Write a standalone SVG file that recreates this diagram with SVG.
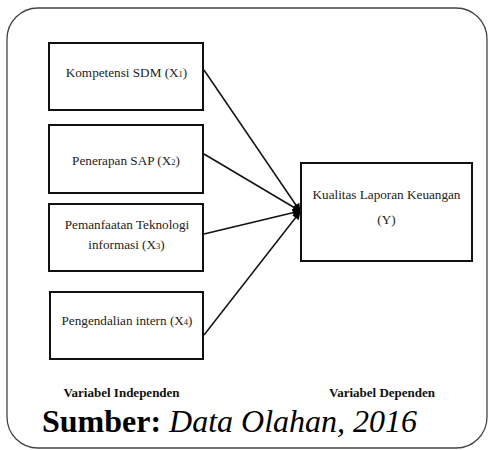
<svg xmlns="http://www.w3.org/2000/svg" width="488" height="450" viewBox="0 0 488 450">
<style>
.frame{fill:#fff;stroke:#444;stroke-width:1.3}
.box{fill:#fff;stroke:#111;stroke-width:2}
.t{font-family:'Liberation Serif','DejaVu Serif',serif;font-size:13.2px;fill:#222;text-anchor:middle}
.b{font-weight:bold;fill:#111;font-size:13px}
.sub{font-size:8.5px}
.conn{stroke:#111;stroke-width:1.5;fill:none;marker-end:url(#ah)}
.src{font-family:'Liberation Serif','DejaVu Serif',serif;font-size:32px;fill:#000}
</style>
<defs>
<marker id="ah" viewBox="0 0 10 10" refX="9" refY="5" markerWidth="9" markerHeight="8" markerUnits="userSpaceOnUse" orient="auto">
<path d="M0,0 L10,5 L0,10 z" fill="#000"/>
</marker>
</defs>
<rect width="488" height="450" fill="#fff"/>
<path class="frame" d="M38,8 H456 A31,31 0 0 1 487,39 V417 A31,31 0 0 1 456,448 H38 A31,31 0 0 1 7,417 V39 A31,31 0 0 1 38,8 Z"/>
<g id="connectors">
<line class="conn" x1="204" y1="70" x2="300" y2="211"/>
<line class="conn" x1="204" y1="154" x2="300" y2="211"/>
<line class="conn" x1="204" y1="234" x2="300" y2="211"/>
<line class="conn" x1="204" y1="335" x2="300" y2="212"/>
</g>
<g id="x1">
<rect class="box" x="49" y="43" width="154" height="67"/>
<text class="t" x="126.5" y="77">Kompetensi SDM (X<tspan class="sub">1</tspan>)</text>
</g>
<g id="x2">
<rect class="box" x="49" y="125" width="154" height="68"/>
<text class="t" x="126" y="165">Penerapan SAP (X<tspan class="sub">2</tspan>)</text>
</g>
<g id="x3">
<rect class="box" x="49" y="204" width="154" height="67"/>
<text class="t" x="127" y="229">Pemanfaatan Teknologi</text>
<text class="t" x="126.5" y="249">informasi (X<tspan class="sub">3</tspan>)</text>
</g>
<g id="x4">
<rect class="box" x="50" y="292" width="153" height="67"/>
<text class="t" x="127" y="325">Pengendalian intern (X<tspan class="sub">4</tspan>)</text>
</g>
<g id="y">
<rect class="box" x="301" y="163" width="171" height="98"/>
<text class="t" x="386.5" y="199">Kualitas Laporan Keuangan</text>
<text class="t" x="386.5" y="224">(Y)</text>
</g>
<g id="labels">
<text class="t b" x="121.5" y="397">Variabel Independen</text>
<text class="t b" x="382" y="397">Variabel Dependen</text>
<text class="src" x="42" y="432"><tspan font-weight="bold">Sumber:</tspan> <tspan font-style="italic">Data Olahan, 2016</tspan></text>
</g>
</svg>
